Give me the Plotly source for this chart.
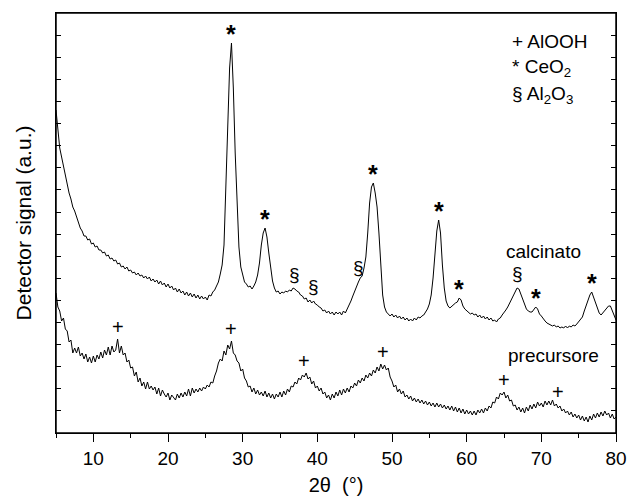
import numpy as np
import plotly.graph_objects as go

# 2-theta scan grid (degrees)
two_theta = np.round(np.arange(5.0, 80.0001, 0.25), 2)

# Detector signal (a.u.), one row per degree (x.00, x.25, x.50, x.75)
calcinato = [
    323, 306, 285, 276,   # 5
    266, 257, 249, 240,   # 6
    234, 226, 222, 216,   # 7
    211, 205, 202, 197,   # 8
    197, 193, 194, 189,   # 9
    190, 186, 187, 183,   # 10
    183, 180, 181, 177,   # 11
    178, 174, 175, 172,   # 12
    173, 169, 170, 166,   # 13
    167, 164, 166, 162,   # 14
    163, 160, 161, 158,   # 15
    160, 157, 158, 155,   # 16
    157, 154, 156, 152,   # 17
    154, 151, 153, 149,   # 18
    152, 148, 150, 146,   # 19
    149, 145, 147, 143,   # 20
    145, 141, 144, 140,   # 21
    142, 138, 141, 137,   # 22
    140, 136, 139, 135,   # 23
    138, 134, 137, 134,   # 24
    136, 133, 138, 137,   # 25
    141, 143, 147, 151,   # 26
    159, 168, 188, 245,   # 27
    305, 365, 390, 345,   # 28
    280, 222, 186, 166,   # 29
    157, 151, 149, 146,   # 30
    147, 144, 147, 151,   # 31
    158, 170, 188, 200,   # 32
    205, 196, 180, 163,   # 33
    152, 145, 141, 142,   # 34
    139, 141, 140, 142,   # 35
    141, 143, 142, 145,   # 36
    144, 142, 141, 138,   # 37
    137, 134, 135, 131,   # 38
    133, 130, 132, 129,   # 39
    128, 126, 125, 122,   # 40
    123, 120, 122, 119,   # 41
    121, 118, 121, 119,   # 42
    121, 118, 122, 120,   # 43
    124, 127, 132, 137,   # 44
    142, 148, 151, 155,   # 45
    157, 165, 176, 200,   # 46
    230, 246, 250, 240,   # 47
    226, 200, 165, 138,   # 48
    126, 121, 119, 117,   # 49
    119, 116, 118, 115,   # 50
    117, 114, 116, 113,   # 51
    115, 112, 114, 112,   # 52
    115, 113, 116, 115,   # 53
    117, 118, 121, 124,   # 54
    129, 138, 155, 180,   # 55
    202, 213, 200, 168,   # 56
    145, 132, 127, 125,   # 57
    127, 128, 130, 131,   # 58
    135, 133, 127, 124,   # 59
    122, 121, 119, 120,   # 60
    118, 119, 116, 118,   # 61
    115, 117, 114, 116,   # 62
    113, 115, 112, 113,   # 63
    111, 114, 115, 118,   # 64
    120, 123, 126, 130,   # 65
    134, 138, 141, 145,   # 66
    144, 139, 133, 127,   # 67
    124, 122, 121, 121,   # 68
    123, 126, 124, 119,   # 69
    117, 114, 112, 110,   # 70
    109, 108, 107, 108,   # 71
    106, 107, 105, 106,   # 72
    105, 107, 105, 107,   # 73
    106, 108, 107, 109,   # 74
    111, 113, 116, 122,   # 75
    128, 133, 138, 141,   # 76
    136, 130, 125, 120,   # 77
    118, 120, 122, 125,   # 78
    127, 127, 122, 117,   # 79
    113,                  # 80
]

precursore = [
    140, 126, 122, 112,   # 5
    115, 104, 102, 91,    # 6
    93, 80, 85, 80,       # 7
    86, 77, 80, 74,       # 8
    79, 71, 76, 70,       # 9
    77, 71, 78, 74,       # 10
    81, 75, 83, 78,       # 11
    86, 78, 87, 81,       # 12
    83, 94, 80, 87,       # 13
    78, 80, 71, 73,       # 14
    65, 66, 57, 61,       # 15
    51, 55, 47, 51,       # 16
    44, 51, 44, 47,       # 17
    43, 46, 39, 45,       # 18
    37, 43, 39, 36,       # 19
    40, 33, 38, 35,       # 20
    33, 39, 35, 40,       # 21
    36, 41, 37, 44,       # 22
    37, 45, 40, 44,       # 23
    41, 45, 42, 46,       # 24
    44, 48, 46, 51,       # 25
    50, 57, 62, 70,       # 26
    74, 72, 82, 78,       # 27
    88, 84, 92, 80,       # 28
    78, 72, 70, 62,       # 29
    64, 55, 52, 46,       # 30
    47, 41, 45, 39,       # 31
    43, 38, 41, 37,       # 32
    42, 36, 40, 35,       # 33
    39, 34, 39, 36,       # 34
    41, 36, 42, 38,       # 35
    44, 41, 47, 46,       # 36
    51, 49, 55, 53,       # 37
    58, 56, 60, 54,       # 38
    56, 49, 52, 45,       # 39
    47, 42, 45, 39,       # 40
    41, 35, 38, 33,       # 41
    39, 35, 41, 37,       # 42
    43, 38, 44, 40,       # 43
    45, 41, 47, 45,       # 44
    50, 47, 53, 50,       # 45
    55, 52, 58, 55,       # 46
    60, 57, 63, 60,       # 47
    66, 62, 69, 64,       # 48
    68, 63, 65, 56,       # 49
    52, 46, 48, 41,       # 50
    44, 39, 42, 36,       # 51
    38, 34, 37, 32,       # 52
    35, 31, 34, 30,       # 53
    33, 29, 32, 28,       # 54
    31, 27, 30, 26,       # 55
    30, 26, 29, 25,       # 56
    28, 24, 27, 23,       # 57
    27, 22, 26, 21,       # 58
    25, 20, 24, 19,       # 59
    23, 19, 22, 18,       # 60
    22, 18, 23, 20,       # 61
    24, 20, 25, 22,       # 62
    27, 25, 31, 30,       # 63
    36, 34, 40, 38,       # 64
    41, 35, 38, 32,       # 65
    33, 27, 28, 23,       # 66
    26, 21, 25, 20,       # 67
    26, 22, 28, 24,       # 68
    29, 25, 31, 27,       # 69
    30, 26, 32, 28,       # 70
    32, 28, 33, 27,       # 71
    29, 25, 27, 22,       # 72
    24, 20, 22, 18,       # 73
    21, 16, 19, 15,       # 74
    18, 13, 17, 12,       # 75
    16, 11, 17, 13,       # 76
    19, 15, 20, 16,       # 77
    21, 17, 22, 18,       # 78
    20, 15, 19, 14,       # 79
    16,                   # 80
]

# Reflection markers (2-theta positions)
ceo2_peaks = [28.5, 33.0, 47.5, 56.25, 59.0, 69.25, 76.75]
al2o3_peaks = [37.0, 39.5, 45.5, 66.75]
alooh_peaks = [13.25, 28.5, 38.25, 48.75, 65.0, 72.25]

legend_lines = ["+ AlOOH", "* CeO<sub>2</sub>", "§ Al<sub>2</sub>O<sub>3</sub>"]
sample_names = ["calcinato", "precursore"]

assert len(calcinato) == len(two_theta) and len(precursore) == len(two_theta)

FONT = "Liberation Sans, Arial, sans-serif"

fig = go.Figure()
for name, ys in zip(sample_names, [calcinato, precursore]):
    fig.add_trace(go.Scatter(x=two_theta, y=ys, mode="lines", name=name,
                             line=dict(color="black", width=1), showlegend=False))


def local_max(series, pos, half=0.3):
    arr = np.asarray(series, dtype=float)
    m = (two_theta >= pos - half) & (two_theta <= pos + half)
    return float(arr[m].max())


ann = []
for p in ceo2_peaks:
    ann.append(dict(x=p, y=local_max(calcinato, p), text="<b>*</b>", showarrow=False,
                    yanchor="middle", yshift=9, font=dict(size=25, family=FONT, color="black")))
for p in al2o3_peaks:
    ann.append(dict(x=p, y=local_max(calcinato, p, 0.15), text="§", showarrow=False,
                    yanchor="middle", yshift=15, font=dict(size=19, family=FONT, color="black")))
for p in alooh_peaks:
    ann.append(dict(x=p, y=local_max(precursore, p), text="+", showarrow=False,
                    yanchor="middle", yshift=12, font=dict(size=20, family=FONT, color="black")))

# sample names
ann.append(dict(x=70.3, y=182, text=sample_names[0], showarrow=False, yanchor="middle",
                font=dict(size=19, family=FONT, color="black")))
ann.append(dict(x=71.6, y=78, text=sample_names[1], showarrow=False, yanchor="middle",
                font=dict(size=19, family=FONT, color="black")))

# phase key (top right)
for i, t in enumerate(legend_lines):
    ann.append(dict(xref="paper", yref="paper", x=0.81, y=0.932 - i * 0.064, text=t,
                    showarrow=False, xanchor="left", yanchor="middle",
                    font=dict(size=19, family=FONT, color="black")))

fig.update_layout(
    width=629, height=504,
    margin=dict(l=56, r=13, t=13, b=71, autoexpand=False),
    paper_bgcolor="white", plot_bgcolor="white",
    font=dict(family=FONT, color="black"),
    annotations=ann,
    shapes=[dict(type="rect", xref="paper", yref="paper", x0=0, x1=1, y0=0, y1=1,
                 line=dict(color="black", width=1.5), layer="above")],
    xaxis=dict(range=[5, 80], tick0=0, dtick=10, ticks="outside", ticklen=8, tickwidth=1,
               tickcolor="black", showline=True, linecolor="black", linewidth=1.2,
               mirror=True, showgrid=False, zeroline=False, automargin=False,
               minor=dict(dtick=5, tick0=0, ticks="outside", ticklen=4, tickcolor="black"),
               tickfont=dict(size=19, family=FONT),
               title=dict(text="2θ  (°)", font=dict(size=20, family=FONT), standoff=10)),
    yaxis=dict(range=[0, 420], tick0=0, dtick=22.1, ticks="inside", ticklen=5,
               tickcolor="black", showticklabels=False, showline=True, linecolor="black",
               linewidth=1.2, mirror="ticks", showgrid=False, zeroline=False,
               automargin=False,
               title=dict(text="Detector signal (a.u.)", font=dict(size=21, family=FONT),
                          standoff=17)),
)

fig.write_html("out.html", config={"displayModeBar": False},
               post_script="document.body.style.margin='0';")
